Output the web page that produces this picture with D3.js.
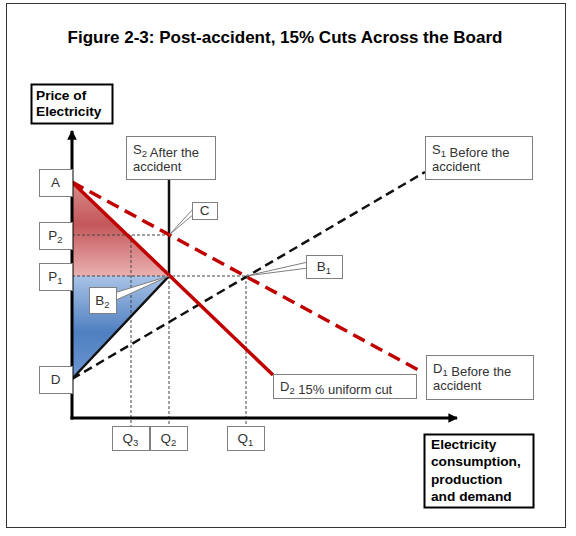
<!DOCTYPE html>
<html>
<head>
<meta charset="utf-8">
<script src="https://cdn.jsdelivr.net/npm/d3@7"></script>
<style>
  body { margin: 0; background: #fff; }
  text { font-family: "Liberation Sans", Arial, sans-serif; }
</style>
</head>
<body>
<svg id="c" width="576" height="536"></svg>
<script>
// price levels on the vertical axis
const priceNames = ["A", "P2", "P1", "D"];
const priceValues = [236, 183, 142, 39];
// quantity levels on the horizontal axis
const qtyNames = ["Q3", "Q2", "Q1"];
const qtyValues = [59, 97, 174];

// curves, as (quantity, price) pairs
const d1Qty = [0, 350], d1Price = [236, 46];        // D1 before the accident
const d2Qty = [0, 201], d2Price = [236, 43];        // D2 15% uniform cut
const s1Qty = [0, 353], s1Price = [39, 246];        // S1 before the accident
const s2Qty = [0, 97, 97], s2Price = [39, 142, 239]; // S2 after the accident

const svg = d3.select("#c");

const x = d3.scaleLinear().domain([0, 385]).range([72, 457]);
const y = d3.scaleLinear().domain([0, 287]).range([418, 131]);

const P = n => priceValues[priceNames.indexOf(n)];
const Q = n => qtyValues[qtyNames.indexOf(n)];

const line = d3.line().x(d => x(d[0])).y(d => y(d[1]));
const pairs = (qs, ps) => qs.map((q, i) => [q, ps[i]]);

// outer frame
svg.append("rect")
  .attr("x", 6.5).attr("y", 3.5).attr("width", 559).attr("height", 524)
  .attr("fill", "none").attr("stroke", "#333").attr("stroke-width", 1);

svg.append("text")
  .attr("x", 285).attr("y", 43)
  .attr("text-anchor", "middle")
  .attr("font-size", 17).attr("font-weight", "bold")
  .text("Figure 2-3: Post-accident, 15% Cuts Across the Board");

// gradients
const defs = svg.append("defs");
const red = defs.append("linearGradient").attr("id", "redG")
  .attr("gradientUnits", "userSpaceOnUse")
  .attr("x1", 0).attr("x2", 0).attr("y1", y(P("A"))).attr("y2", y(P("P1")));
red.append("stop").attr("offset", 0).attr("stop-color", "#d98c8a");
red.append("stop").attr("offset", 0.45).attr("stop-color", "#c4575a");
red.append("stop").attr("offset", 1).attr("stop-color", "#eab0b0");

const blue = defs.append("linearGradient").attr("id", "blueG")
  .attr("gradientUnits", "userSpaceOnUse")
  .attr("x1", 0).attr("x2", 0).attr("y1", y(P("P1"))).attr("y2", y(P("D")));
blue.append("stop").attr("offset", 0).attr("stop-color", "#a9c3e6");
blue.append("stop").attr("offset", 0.55).attr("stop-color", "#4f7fc0");
blue.append("stop").attr("offset", 1).attr("stop-color", "#6d98d2");

// shaded areas
svg.append("path")
  .attr("d", line([[0, P("A")], [Q("Q2"), P("P1")], [0, P("P1")]]) + "Z")
  .attr("fill", "url(#redG)");
svg.append("path")
  .attr("d", line([[0, P("P1")], [Q("Q2"), P("P1")], [0, P("D")]]) + "Z")
  .attr("fill", "url(#blueG)");

// dashed guide lines
const guides = [
  [[0, P("P2")], [Q("Q2"), P("P2")]],
  [[0, P("P1")], [Q("Q1"), P("P1")]],
  [[Q("Q3"), P("P2")], [Q("Q3"), y.invert(426)]],
  [[Q("Q2"), P("P1")], [Q("Q2"), y.invert(426)]],
  [[Q("Q1"), P("P1")], [Q("Q1"), y.invert(426)]]
];
svg.selectAll(".guide").data(guides).join("path")
  .attr("class", "guide")
  .attr("d", line)
  .attr("fill", "none")
  .attr("stroke", "#444").attr("stroke-width", 1)
  .attr("stroke-dasharray", "3,2");

// curves
svg.append("path").attr("d", line(pairs(s1Qty, s1Price)))
  .attr("fill", "none").attr("stroke", "#111").attr("stroke-width", 2.5)
  .attr("stroke-dasharray", "9,5");
svg.append("path").attr("d", line(pairs(s2Qty, s2Price)))
  .attr("fill", "none").attr("stroke", "#111").attr("stroke-width", 2.5);
svg.append("path").attr("d", line(pairs(d1Qty, d1Price)))
  .attr("fill", "none").attr("stroke", "#c00000").attr("stroke-width", 3.5)
  .attr("stroke-dasharray", "13,7");
svg.append("path").attr("d", line(pairs(d2Qty, d2Price)))
  .attr("fill", "none").attr("stroke", "#c00000").attr("stroke-width", 3.5);

// axes with arrow heads
defs.append("marker").attr("id", "arr")
  .attr("viewBox", "0 0 10 10").attr("refX", 9).attr("refY", 5)
  .attr("markerWidth", 3.2).attr("markerHeight", 3.2)
  .attr("orient", "auto")
  .append("path").attr("d", "M0,0L10,5L0,10Z").attr("fill", "#000");
svg.append("line")
  .attr("x1", x(0)).attr("y1", y(0) + 1.5).attr("x2", x(0)).attr("y2", y(287))
  .attr("stroke", "#000").attr("stroke-width", 3).attr("marker-end", "url(#arr)");
svg.append("line")
  .attr("x1", x(0) - 1.5).attr("y1", y(0)).attr("x2", x(385)).attr("y2", y(0))
  .attr("stroke", "#000").attr("stroke-width", 3).attr("marker-end", "url(#arr)");

// callout wedges: [target point, box edge x, edge y1, edge y2]
const callouts = [
  [[Q("Q2"), P("P1")], 114, 293, 301],   // B2
  [[Q("Q2"), P("P2")], 194, 208, 214],   // C
  [[Q("Q1"), P("P1")], 308, 262, 268]    // B1
];
svg.selectAll(".callout").data(callouts).join("path")
  .attr("class", "callout")
  .attr("d", d => `M${x(d[0][0])},${y(d[0][1])}L${d[1]},${d[2]}L${d[1]},${d[3]}Z`)
  .attr("fill", "#fff").attr("stroke", "#7f7f7f").attr("stroke-width", 1);

// text boxes
function box(bx, by, w, h, lines, opt = {}) {
  const g = svg.append("g");
  g.append("rect")
    .attr("x", bx + 0.5).attr("y", by + 0.5).attr("width", w).attr("height", h)
    .attr("fill", "#fff")
    .attr("stroke", opt.bold ? "#000" : "#808080")
    .attr("stroke-width", opt.bold ? 2 : 1);
  const lh = opt.lh || 17;
  const top = by + h / 2 - (lines.length - 1) * lh / 2 + 4.5;
  lines.forEach((ln, i) => {
    const t = g.append("text")
      .attr("x", opt.center ? bx + w / 2 : bx + (opt.pad || 7))
      .attr("y", top + i * lh)
      .attr("text-anchor", opt.center ? "middle" : "start")
      .attr("font-size", opt.size || 13)
      .attr("font-weight", opt.bold ? "bold" : "normal")
      .attr("fill", opt.bold ? "#000" : "#333");
    ln.forEach(seg => {
      if (typeof seg === "object") {
        t.append("tspan").attr("font-size", 9.5).attr("dy", 3).text(seg.sub);
        t.append("tspan").attr("dy", -3).text("");
      } else {
        t.append("tspan").text(seg);
      }
    });
  });
}
const subLabel = n => n.length > 1 ? [n[0], { sub: n.slice(1) }] : [n];

// price tick boxes
priceNames.forEach((n, i) => {
  box(39, y(priceValues[i]) - 13, 33, 27, [subLabel(n)], { center: true, size: 13.5 });
});
// quantity tick boxes
qtyNames.forEach((n, i) => {
  box(x(qtyValues[i]) - 19, 426, 37, 24, [subLabel(n)], { center: true, size: 13.5 });
});

box(89, 287, 27, 26, [subLabel("B2")], { center: true, size: 13.5 });
box(192, 202, 25, 17, [["C"]], { center: true, size: 13.5 });
box(306, 255, 36, 23, [subLabel("B1")], { center: true, size: 13.5 });

box(126, 136, 89, 43, [["S", { sub: "2" }, " After the"], ["accident"]]);
box(425, 136, 107, 43, [["S", { sub: "1" }, " Before the"], ["accident"]]);
box(273, 374, 143, 24, [["D", { sub: "2" }, " 15% uniform cut"]]);
box(426, 355, 107, 44, [["D", { sub: "1" }, " Before the"], ["accident"]]);

box(31, 84, 81, 39, [["Price of"], ["Electricity"]], { bold: true, lh: 16, pad: 5, size: 13.7 });
box(424, 434, 109, 73, [["Electricity"], ["consumption,"], ["production"], ["and demand"]],
  { bold: true, lh: 17.5, pad: 7, size: 13.7 });
</script>
</body>
</html>
